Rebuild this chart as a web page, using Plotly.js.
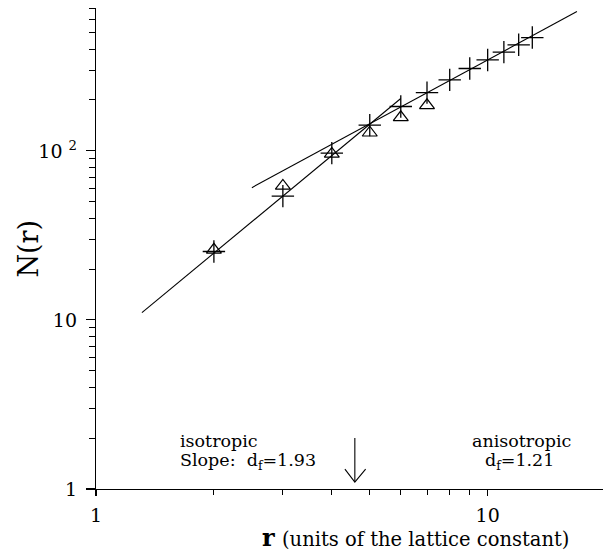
<!DOCTYPE html>
<html>
<head>
<meta charset="utf-8">
<script src="https://cdn.plot.ly/plotly-3.0.1.min.js"></script>
<style>html,body{margin:0;padding:0;background:#fff;}#chart{width:603px;height:553px;}</style>
</head>
<body>
<div id="chart"></div>
<script>
// Data
const crossR = [2, 3, 4, 5, 6, 7, 8, 9, 10, 11, 12, 13];
const crossN = [25.4, 54, 97, 142, 183, 221, 263, 307, 345, 384, 424, 468];
const triR = [2, 3, 4, 5, 6, 7];
const triN = [26, 62, 96, 128, 158, 186];
const fitIsoR = [1.31, 6.0];
const fitIsoN = [11.05, 204];
const fitAnisoR = [2.5, 16.9];
const fitAnisoN = [60.6, 667];
const arrowShaftR = [4.58, 4.58];
const arrowShaftN = [2.0, 1.1];
const arrowHeadR = [4.32, 4.58, 4.88];
const arrowHeadN = [1.31, 1.1, 1.31];
const yTickVals = [1, 10, 100];
const yTickText = ['1', '10', '10 <sup>2</sup>'];
const yMinor = [2,3,4,5,6,7,8,9,20,30,40,50,60,70,80,90,200,300,400,500,600,700];
const xTickVals = [1, 10];
const xTickText = ['1', '10'];
const xMinor = [2,3,4,5,6,7,8,9];

const serif = 'DejaVu Serif, serif';
const traces = [
  {x: fitIsoR, y: fitIsoN, mode: 'lines', line: {color: '#000', width: 1.1}},
  {x: fitAnisoR, y: fitAnisoN, mode: 'lines', line: {color: '#000', width: 1.1}},
  {x: triR, y: triN, mode: 'markers', marker: {symbol: 'triangle-up-open', size: 13, color: '#000', line: {color: '#000', width: 1.2}}},
  {x: crossR, y: crossN, mode: 'markers', marker: {symbol: 'cross-thin-open', size: 16, color: '#000', line: {color: '#000', width: 1.3}}},
  {x: arrowShaftR, y: arrowShaftN, mode: 'lines', line: {color: '#000', width: 1.1}},
  {x: arrowHeadR, y: arrowHeadN, mode: 'lines', line: {color: '#000', width: 1.1}}
];

function note(x, y, text, size, opts) {
  return Object.assign({xref: 'paper', yref: 'paper', x: x, y: y, xanchor: 'left', yanchor: 'middle',
    text: text, showarrow: false, font: {family: serif, size: size, color: '#000'}}, opts || {});
}

const layout = {
  width: 603, height: 553,
  margin: {l: 96, r: 0, t: 8, b: 64},
  paper_bgcolor: '#fff', plot_bgcolor: '#fff',
  showlegend: false, hovermode: false,
  font: {family: serif, color: '#000', size: 16},
  xaxis: {
    type: 'log', range: [0, Math.log10(19.7)],
    showgrid: false, zeroline: false, showline: true, linecolor: '#000', linewidth: 1.2,
    ticks: 'outside', ticklen: 6, tickwidth: 1.1, tickcolor: '#000',
    tickmode: 'array', tickvals: xTickVals, ticktext: xTickText,
    tickfont: {family: serif, size: 19, color: '#000'}, ticklabelstandoff: 3,
    minor: {tickmode: 'array', tickvals: xMinor, ticks: 'outside', ticklen: 5, tickwidth: 1, tickcolor: '#000', showgrid: false}
  },
  yaxis: {
    type: 'log', range: [0, Math.log10(700)],
    showgrid: false, zeroline: false, showline: true, linecolor: '#000', linewidth: 1.2,
    ticks: 'outside', ticklen: 9, tickwidth: 1.1, tickcolor: '#000',
    tickmode: 'array', tickvals: yTickVals, ticktext: yTickText,
    tickfont: {family: serif, size: 19, color: '#000'}, ticklabelstandoff: 5,
    minor: {tickmode: 'array', tickvals: yMinor, ticks: 'outside', ticklen: 6, tickwidth: 1, tickcolor: '#000', showgrid: false}
  },
  annotations: [
    note(-0.134, 0.50, 'N(r)', 27, {xanchor: 'center', textangle: -90}),
    note(0.324, -0.1, '<b>r</b>', 24),
    note(0.362, -0.106, '(units of the lattice constant)', 19.5),
    note(0.162, 0.1, 'isotropic', 17.5),
    note(0.162, 0.058, 'Slope:  d<sub>f</sub>=1.93', 17.5),
    note(0.84, 0.1, 'anisotropic', 17.5, {xanchor: 'center'}),
    note(0.836, 0.058, 'd<sub>f</sub>=1.21', 17.5, {xanchor: 'center'})
  ]
};

Plotly.newPlot('chart', traces, layout, {staticPlot: true, displayModeBar: false});
</script>
</body>
</html>
